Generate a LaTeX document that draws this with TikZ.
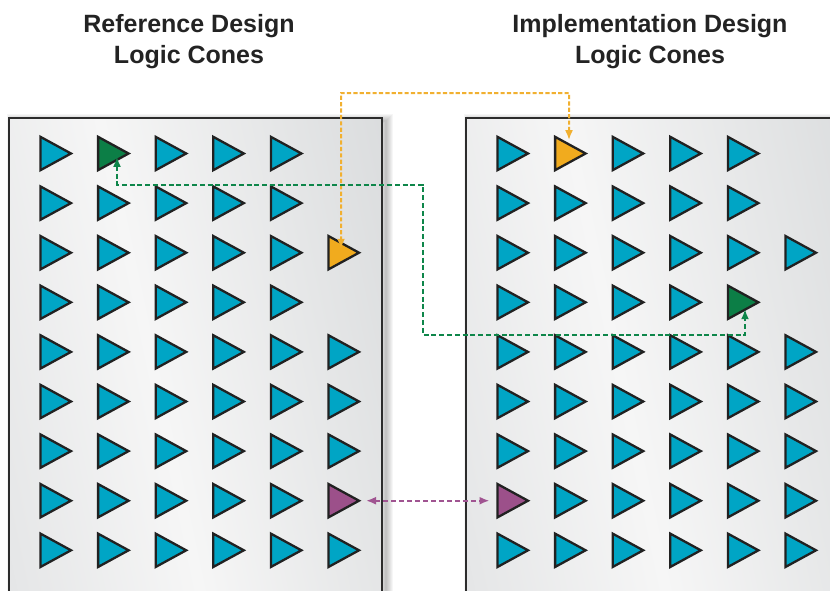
\documentclass[tikz,border=0pt]{standalone}
\usepackage{fontspec}
\newfontfamily\hfont{Liberation Sans}
\usetikzlibrary{shapes.geometric,arrows.meta,calc}
\definecolor{cblue}{RGB}{0,165,197}
\definecolor{cgreen}{RGB}{12,126,70}
\definecolor{corange}{RGB}{241,171,30}
\definecolor{cpurple}{RGB}{156,80,138}
\definecolor{lorange}{RGB}{241,176,48}
\definecolor{lgreen}{RGB}{14,134,74}
\definecolor{lpurple}{RGB}{160,84,145}
\definecolor{outl}{RGB}{33,33,33}
\definecolor{txt}{RGB}{35,35,35}
\definecolor{pedgeA}{RGB}{213,215,217}
\definecolor{pedgeB}{RGB}{203,206,208}
\definecolor{pmid}{RGB}{246,246,246}
\pgfdeclarehorizontalshading{panelshade}{100bp}{color(0bp)=(pedgeA); color(45bp)=(pmid); color(100bp)=(pedgeB)}
\begin{document}
\begin{tikzpicture}[x=1pt,y=-1pt,
  cone/.style={isosceles triangle, isosceles triangle stretches,
    minimum width=33.3pt, minimum height=30.5pt, inner sep=0pt, outer sep=0pt,
    draw=outl, line width=2.3pt, line join=miter, anchor=lower side, fill=cblue},
  title/.style={font=\hfont\bfseries\fontsize{25}{31}\selectfont, text=txt,
    align=center, inner sep=0pt},
  panel/.style={draw=outl!95!white, line width=1.8pt, shade, shading=panelshade, shading angle=12},
  glow/.style={black, opacity=0.035},
  conn/.style={line width=2pt, <->, >={Latex[length=10pt,width=8pt]}},
  oline/.style={conn, draw=lorange, dash pattern=on 4.2pt off 2.2pt},
  gline/.style={conn, draw=lgreen, dash pattern=on 5pt off 2.8pt},
  pline/.style={conn, draw=lpurple, dash pattern=on 5pt off 3pt}]
\useasboundingbox (0,0) rectangle (830,590);
\clip (0,0) rectangle (830,590);
\fill[white] (0,0) rectangle (830,590);

% titles
\node[title] (t1) at (189,42) {Reference Design\\Logic Cones};
\node[title] (t2) at (650,42) {Implementation Design\\Logic Cones};

% panel shadows (offset to the right)
\foreach \w in {2,4,...,14} {
  \draw[glow, line width=\w pt] (14,121) rectangle (386,640);
  \draw[glow, line width=\w pt] (471,121) rectangle (860,640);
}
% panels
\path[panel] (9,118) rectangle (382,640);
\path[panel] (466,118) rectangle (860,640);

% left panel cones
\foreach \r/\cl in {1/{1,3,4,5},2/{1,2,3,4,5},3/{1,2,3,4,5},4/{1,2,3,4,5},
    5/{1,2,3,4,5,6},6/{1,2,3,4,5,6},7/{1,2,3,4,5,6},8/{1,2,3,4,5},9/{1,2,3,4,5,6}}
  \foreach \c in \cl
    \node[cone] (L\r-\c) at ({40.5+57.6*(\c-1)},{153.5+49.6*(\r-1)}) {};
% right panel cones
\foreach \r/\cl in {1/{1,3,4,5},2/{1,2,3,4,5},3/{1,2,3,4,5,6},4/{1,2,3,4},
    5/{1,2,3,4,5,6},6/{1,2,3,4,5,6},7/{1,2,3,4,5,6},8/{2,3,4,5,6},9/{1,2,3,4,5,6}}
  \foreach \c in \cl
    \node[cone] (R\r-\c) at ({497.5+57.6*(\c-1)},{153.5+49.6*(\r-1)}) {};

% highlighted cones
\node[cone, fill=cgreen] (gL) at (98.1,153.5) {};
\node[cone, fill=corange] (oL) at (328.5,252.7) {};
\node[cone, fill=cpurple] (pL) at (328.5,500.7) {};
\node[cone, fill=corange] (oR) at (555.1,153.5) {};
\node[cone, fill=cgreen] (gR) at (727.9,302.3) {};
\node[cone, fill=cpurple] (pR) at (497.5,500.7) {};

% connectors
\coordinate (oa) at ($(oR.north west)+(13.9,-3.5)$);
\coordinate (ob) at ($(oL.north west)+(12.5,6)$);
\coordinate (o1) at (569,93);
\coordinate (o2) at (341,93);
\draw[oline] (oa) -- (o1) -- (o2) -- (ob);

\coordinate (ga) at ($(gL.south west)+(18.9,-6.5)$);
\coordinate (gb) at ($(gR.south west)+(17.1,-3)$);
\coordinate (g1) at (423,184.5);
\coordinate (g2) at (423,335);
\draw[gline] (ga) |- (g1) -- (g2) -| (gb);

\draw[pline] ($(pL.apex)+(7,0)$) -- ($(pR.lower side)+(-8,0)$);
\end{tikzpicture}
\end{document}
